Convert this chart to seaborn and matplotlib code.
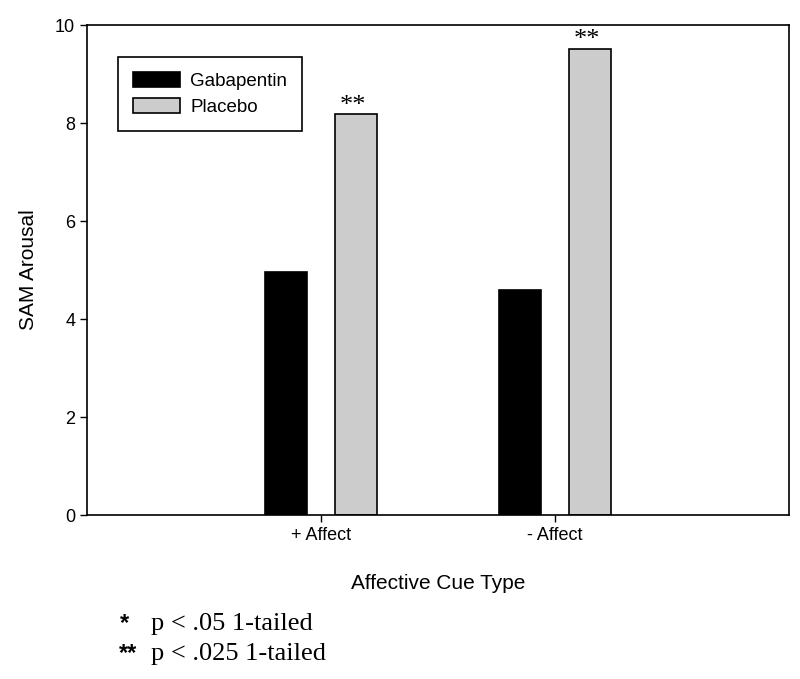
import pandas as pd
import matplotlib.pyplot as plt
import seaborn as sns

cue_types = ['+ Affect', '- Affect']
gabapentin = [4.96, 4.60]
placebo = [8.18, 9.52]
groups = ['Gabapentin', 'Placebo']
stars = ['**', '**']

df = pd.DataFrame({
    'cue': cue_types * 2,
    'group': [groups[0]] * 2 + [groups[1]] * 2,
    'value': gabapentin + placebo,
})

sns.set_style('ticks')
plt.rcParams['font.family'] = ['Liberation Sans', 'DejaVu Sans']
plt.rcParams['text.color'] = 'black'
plt.rcParams['axes.labelcolor'] = 'black'

fig = plt.figure(figsize=(8, 6.79), dpi=100)
ax = fig.add_axes([0.10875, 0.2415, 0.8775, 0.7216])

sns.barplot(data=df, x='cue', y='value', hue='group', order=cue_types,
            hue_order=groups, palette=['black', '#cccccc'], edgecolor='black',
            linewidth=1.2, width=0.6, gap=0.4, errorbar=None, ax=ax)

ax.set_xlim(-1, 2)
ax.set_ylim(0, 10)
ax.set_yticks([0, 2, 4, 6, 8, 10])
for s in ax.spines.values():
    s.set_visible(True)
    s.set_linewidth(1.2)
    s.set_color('black')
ax.tick_params(direction='out', length=5, width=1, labelsize=13, colors='black')

ax.set_xlabel('Affective Cue Type', fontsize=15, labelpad=22)
ax.set_ylabel('SAM Arousal', fontsize=15, labelpad=12)

# significance stars over placebo bars
for bar, s in zip(ax.containers[1], stars):
    ax.annotate(s, (bar.get_x() + bar.get_width() / 2, bar.get_height()),
                xytext=(-2, -2), textcoords='offset points', ha='center',
                va='bottom', fontsize=19, family='Liberation Serif')

handles, labels = ax.get_legend_handles_labels()
ax.legend(handles, labels, loc='upper left', bbox_to_anchor=(0.0446, 0.934),
          borderaxespad=0, fancybox=False, edgecolor='black', framealpha=1,
          fontsize=13.5, handlelength=2.5, handleheight=0.85, labelspacing=0.4,
          borderpad=0.8, handletextpad=0.55).get_frame().set_linewidth(1.2)

# footnote
fig.text(120 / 800, 1 - 630 / 679, '*', fontsize=17, fontweight='bold', va='baseline')
fig.text(151 / 800, 1 - 630 / 679, 'p < .05 1-tailed', fontsize=19,
         family='Liberation Serif', va='baseline')
fig.text(119 / 800, 1 - 660 / 679, '**', fontsize=17, fontweight='bold', va='baseline')
fig.text(151 / 800, 1 - 660 / 679, 'p < .025 1-tailed', fontsize=19,
         family='Liberation Serif', va='baseline')

plt.savefig('out.png', dpi=100)
